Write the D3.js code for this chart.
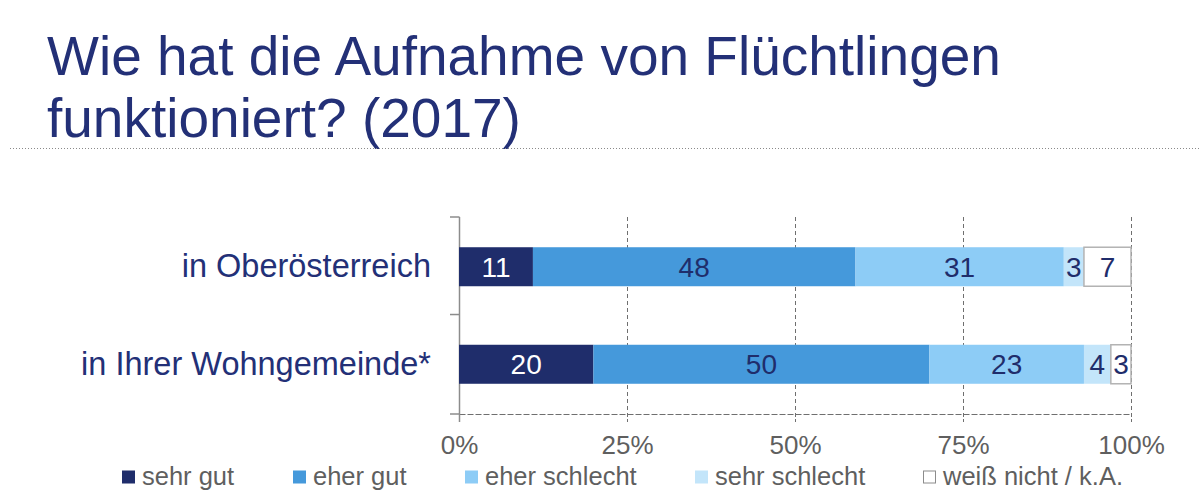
<!DOCTYPE html>
<html>
<head>
<meta charset="utf-8">
<script src="https://cdn.jsdelivr.net/npm/d3@7"></script>
<style>
  body { margin: 0; background: #fff; }
  svg { display: block; }
</style>
</head>
<body>
<svg width="1200" height="503"></svg>
<script>
const categories = ['in Oberösterreich', 'in Ihrer Wohngemeinde*'];
const seriesNames = ['sehr gut', 'eher gut', 'eher schlecht', 'sehr schlecht', 'weiß nicht / k.A.'];
const sehrGut = [11, 20];
const eherGut = [48, 50];
const eherSchlecht = [31, 23];
const sehrSchlecht = [3, 4];
const weissNicht = [7, 3];
const tickValues = [0, 25, 50, 75, 100];

const colors = ['#1f2d6b', '#4599db', '#8dccf6', '#c3e5fa', '#ffffff'];
const labelColors = ['#ffffff', '#1f2d6b', '#1f2d6b', '#1f2d6b', '#1f2d6b'];
const navy = '#233077';
const grey = '#5f5f5f';
const font = '"Liberation Sans", Arial, sans-serif';

const svg = d3.select('svg');

const seriesValues = [sehrGut, eherGut, eherSchlecht, sehrSchlecht, weissNicht];
const data = categories.map((c, i) => {
    const row = { category: c };
    seriesNames.forEach((s, j) => row[s] = seriesValues[j][i]);
    return row;
});
const stacked = d3.stack().keys(seriesNames)(data);

const plotLeft = 459, plotRight = 1131, plotTop = 217, plotBottom = 414;

const xScale = d3.scaleLinear().domain([0, 100]).range([plotLeft, plotRight]);
const yScale = d3.scaleBand().domain(categories).range([plotTop, plotBottom])
    .paddingInner(0.6).paddingOuter(0.31);

// title
const title = svg.append('text')
    .attr('fill', navy)
    .attr('font-family', font)
    .attr('font-size', 55);
title.append('tspan').attr('x', 47).attr('y', 75).text('Wie hat die Aufnahme von Flüchtlingen');
title.append('tspan').attr('x', 47).attr('y', 137).text('funktioniert? (2017)');

svg.append('line')
    .attr('x1', 10).attr('x2', 1200).attr('y1', 148.5).attr('y2', 148.5)
    .attr('stroke', '#8a8a8a').attr('stroke-width', 1).attr('stroke-dasharray', '1,2');

// gridlines
svg.append('g').selectAll('line').data(tickValues.filter(d => d > 0))
    .enter().append('line')
    .attr('x1', d => xScale(d) + 0.5).attr('x2', d => xScale(d) + 0.5)
    .attr('y1', plotTop).attr('y2', plotBottom)
    .attr('stroke', '#6f6f6f').attr('stroke-dasharray', '4,3');

// x axis
const xAxis = svg.append('g')
    .attr('transform', `translate(0,${plotBottom})`)
    .call(d3.axisBottom(xScale).tickValues(tickValues).tickSize(8).tickSizeOuter(0).tickFormat(d => d + '%'));
xAxis.select('.domain').attr('stroke', '#6f6f6f').attr('stroke-dasharray', '6,2');
xAxis.selectAll('.tick line').attr('stroke', '#6f6f6f').attr('stroke-dasharray', '3,2');
xAxis.selectAll('.tick text')
    .attr('fill', grey).attr('font-family', font).attr('font-size', 26)
    .attr('y', 40).attr('dy', 0);

// y axis
const yAxis = svg.append('g').attr('transform', `translate(${plotLeft},0)`);
const yBounds = [plotTop, plotTop + yScale.step(), plotBottom];
yAxis.append('line').attr('x1', 0.5).attr('x2', 0.5).attr('y1', plotTop).attr('y2', plotBottom + 8)
    .attr('stroke', '#8c8c8c').attr('stroke-width', 1.5);
yAxis.selectAll('.yt').data(yBounds).enter().append('line')
    .attr('x1', -9).attr('x2', 0.5).attr('y1', d => d).attr('y2', d => d)
    .attr('stroke', '#8c8c8c').attr('stroke-width', 1.5);
yAxis.selectAll('text').data(categories).enter().append('text')
    .attr('x', -28).attr('y', d => yScale(d) + yScale.bandwidth() / 2)
    .attr('dy', '0.32em').attr('text-anchor', 'end')
    .attr('fill', navy).attr('font-family', font).attr('font-size', 32.5)
    .text(d => d);

// bars
const layers = svg.append('g').selectAll('g').data(stacked).enter().append('g');
layers.selectAll('rect').data((d, i) => d.map(p => ({ p, i })))
    .enter().append('rect')
    .attr('x', d => xScale(d.p[0]))
    .attr('y', d => yScale(d.p.data.category))
    .attr('width', d => xScale(d.p[1]) - xScale(d.p[0]))
    .attr('height', yScale.bandwidth())
    .attr('fill', d => colors[d.i])
    .attr('stroke', d => d.i === 4 ? '#b3b3b3' : 'none')
    .attr('stroke-width', 1.5);

layers.selectAll('text').data((d, i) => d.map(p => ({ p, i })))
    .enter().append('text')
    .attr('x', d => (xScale(d.p[0]) + xScale(d.p[1])) / 2)
    .attr('y', d => yScale(d.p.data.category) + yScale.bandwidth() / 2)
    .attr('dy', '0.36em').attr('text-anchor', 'middle')
    .attr('fill', d => labelColors[d.i])
    .attr('font-family', font).attr('font-size', 28)
    .text(d => d.p[1] - d.p[0]);

// legend
const legendX = [122, 293, 465, 695, 923];
const legend = svg.append('g').selectAll('g').data(seriesNames).enter().append('g')
    .attr('transform', (d, i) => `translate(${legendX[i]},477)`);
legend.append('rect')
    .attr('x', (d, i) => i === 4 ? 0.5 : 0).attr('y', (d, i) => i === 4 ? -6 : -6.5)
    .attr('width', (d, i) => i === 4 ? 12 : 13).attr('height', (d, i) => i === 4 ? 12 : 13)
    .attr('fill', (d, i) => colors[i])
    .attr('stroke', (d, i) => i === 4 ? '#8c8c8c' : 'none');
legend.append('text')
    .attr('x', 20).attr('y', 8)
    .attr('fill', grey).attr('font-family', font).attr('font-size', 25.5)
    .text(d => d);
</script>
</body>
</html>
